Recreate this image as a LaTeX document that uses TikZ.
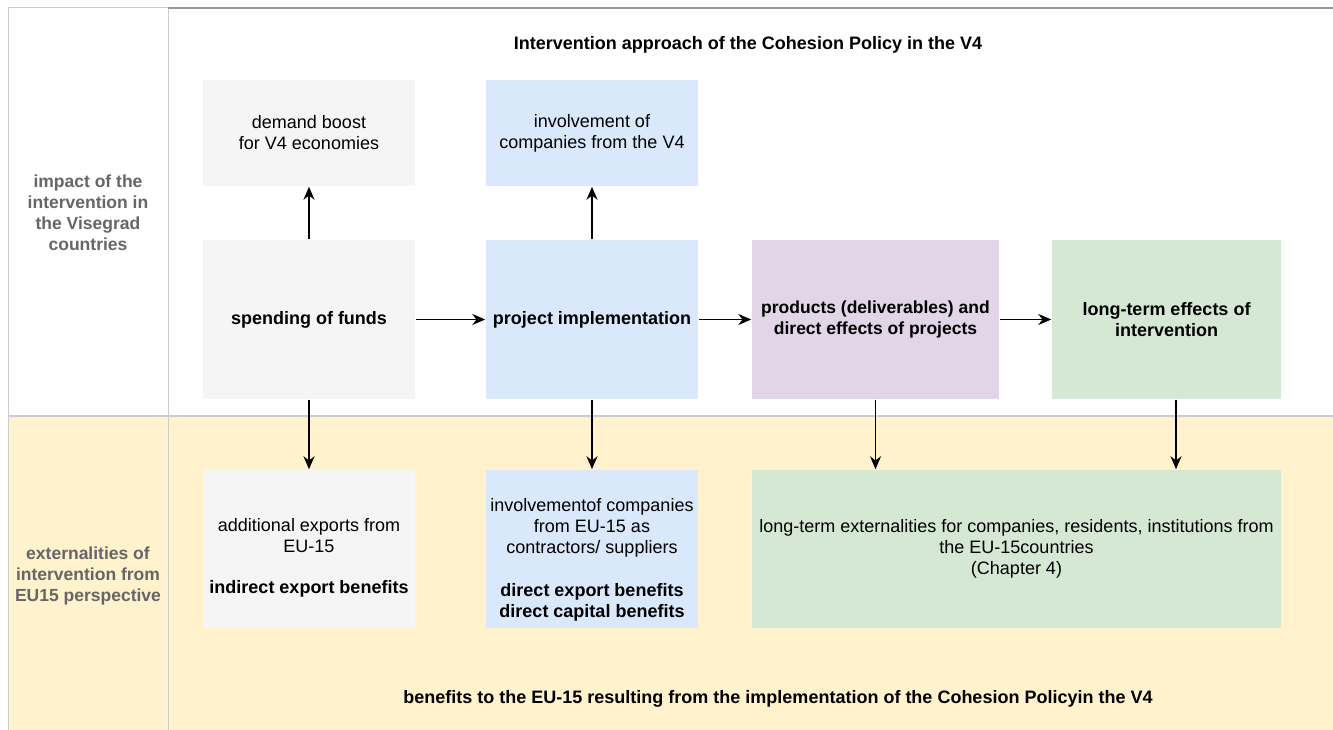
\documentclass[tikz,border=0pt]{standalone}
\usepackage{fontspec}
\setmainfont{Liberation Sans}
\usetikzlibrary{arrows.meta}
\definecolor{boxgray}{HTML}{F5F5F5}
\definecolor{boxblue}{HTML}{DAE8FC}
\definecolor{boxviolet}{HTML}{E1D5E7}
\definecolor{boxgreen}{HTML}{D5E8D4}
\definecolor{bandyellow}{HTML}{FFF2CC}
\definecolor{laneline}{HTML}{CCCCCC}
\definecolor{headline}{HTML}{999999}
\definecolor{lanetext}{HTML}{666666}

\begin{document}
\begin{tikzpicture}[x=1pt,y=-1pt,line width=1.5pt,>={Stealth[length=13pt,width=11pt]},
  txt/.style={font=\fontsize{18}{21}\selectfont,align=center},
  bold/.style={font=\fontsize{18}{21}\selectfont\bfseries},
  box/.style={txt,rectangle,inner sep=2pt,minimum width=212pt},
  lanelabel/.style={font=\fontsize{17.5}{21}\selectfont\bfseries,text=lanetext,align=center}]
% ---- frame and lanes ----
\useasboundingbox (0,0) rectangle (1333,730);
\fill[white] (0,0) rectangle (1333,730);
\fill[bandyellow] (8,416) rectangle (1333,730);
\draw[laneline,line width=1pt] (8,730) -- (8,8) -- (168,8);
\draw[laneline,line width=1pt] (168,8) -- (168,730);
\draw[headline,line width=1.2pt] (168,8) -- (1333,8);
\draw[laneline,line width=1.2pt] (8,416) -- (1333,416);
\node[lanelabel] (impact) at (88,213) {impact of the\\intervention in\\the Visegrad\\countries};
\node[lanelabel] (extern) at (88,576) {externalities of\\intervention from\\EU15 perspective};
\node[txt,bold] (title) at (748,45)
  {Intervention approach of the Cohesion Policy in the V4};
\node[txt,bold] (benefit) at (778,699)
  {benefits to the EU-15 resulting from the implementation of the Cohesion Policyin the V4};
% ---- upper lane ----
\node[box,fill=boxgray,minimum height=106pt] (demand) at (309,133) {demand boost\\for V4 economies};
\node[box,fill=boxblue,minimum height=106pt] (invfour) at (592,133) {involvement of\\companies from the V4};
\node[box,bold,fill=boxgray,minimum height=159pt] (spend) at (309,319.5) {spending of funds};
\node[box,bold,fill=boxblue,minimum height=159pt] (proj) at (592,319.5) {project implementation};
\node[box,fill=boxviolet,minimum height=159pt,minimum width=247pt,font=\fontsize{17.5}{21}\selectfont\bfseries] (prod) at (875.5,319.5) {products (deliverables) and\\direct effects of projects};
\node[box,bold,fill=boxgreen,minimum height=159pt,minimum width=229pt] (longterm) at (1166.5,319.5) {long-term effects of\\intervention};
% ---- lower lane (text sits a little below centre) ----
\node[box,fill=boxgray,minimum height=158pt] (addexp) at (309,549) {};
\node[txt] (addexptext) at ([yshift=-9pt]addexp.center)
  {additional exports from\\EU-15\\[20pt]\textbf{indirect export benefits}};
\node[box,fill=boxblue,minimum height=158pt] (inveu) at (592,549) {};
\node[txt] (inveutext) at ([yshift=-11pt]inveu.center)
  {involvementof companies\\from EU-15 as\\contractors/ suppliers\\[22pt]\textbf{direct export benefits}\\\textbf{direct capital benefits}};
\node[box,fill=boxgreen,minimum height=158pt,minimum width=529pt] (extlong) at (1016.5,549)
  {long-term externalities for companies, residents, institutions from\\the EU-15countries\\(Chapter 4)};
% ---- connectors ----
\draw[->] (spend) -- (demand);
\draw[->] (proj) -- (invfour);
\draw[->] (spend) -- (proj);
\draw[->] (proj) -- (prod);
\draw[->] (prod) -- (longterm);
\draw[->] (spend) -- (addexp);
\draw[->] (proj) -- (inveu);
\draw[->] (prod.south) -- (prod.south |- extlong.north);
\draw[->] ([xshift=9.5pt]longterm.south) -- ([xshift=9.5pt]longterm.south |- extlong.north);
\end{tikzpicture}
\end{document}
